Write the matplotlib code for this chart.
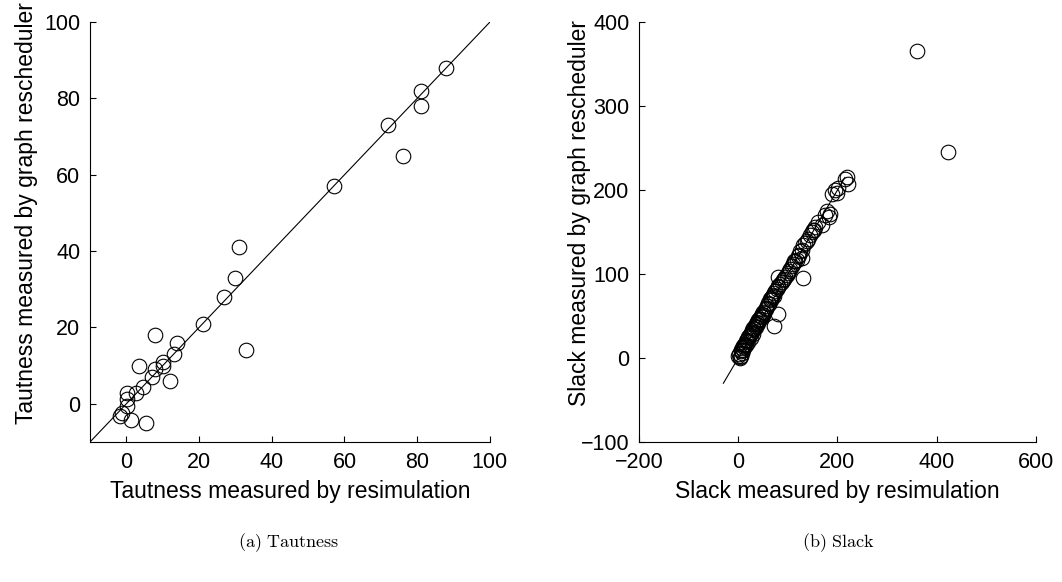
import matplotlib.pyplot as plt

plt.rcParams['font.family'] = ['Liberation Sans', 'DejaVu Sans']
plt.rcParams['mathtext.fontset'] = 'cm'

# (a) tautness: resimulation vs graph rescheduler
taut_resim = [88, 81, 81, 72, 76, 57, 31, 30, 27, 21, 33, 14, 13, 8, 3.5, 10, 10, 8, 7,
              12, 4.7, 2.6, 0.3, 0.3, 0.3, -1.3, -1.7, 1.2, 5.3]
taut_graph = [88, 82, 78, 73, 65, 57, 41, 33, 28, 21, 14, 16, 13, 18, 10, 11, 10, 9, 7,
              6, 4.5, 2.8, 2.9, 1.2, -0.5, -2.3, -3.1, -4.2, -5]

# (b) slack: resimulation vs graph rescheduler
slack_resim = [0, 2, 3, 4, 5, 5, 6, 8, 8, 10, 10, 12, 12, 14, 15, 15, 17, 18, 20, 20,
               22, 24, 25, 25, 27, 28, 30, 30, 32, 33, 35, 35, 37, 38, 40, 40, 42, 44,
               45, 47, 48, 50, 50, 52, 55, 55, 58, 60, 62, 63, 65, 66, 68, 70, 72, 73,
               75, 78, 80, 81, 85, 88, 90, 92, 95, 98, 100, 102, 105, 108, 110, 113,
               115, 118, 120, 122, 125, 128, 128, 130, 135, 138, 140, 145, 148, 150,
               152, 155, 160, 168, 175, 178, 182, 185, 189, 195, 200, 202, 215, 219,
               222, 73, 81, 81, 130, 360, 422]
slack_graph = [2, 5, 1, 0, 8, 3, 10, 6, 12, 14, 9, 16, 13, 17, 20, 15, 21, 22, 25, 19,
               26, 27, 30, 24, 31, 33, 36, 29, 34, 38, 41, 37, 40, 43, 45, 42, 47, 46,
               50, 49, 53, 55, 51, 54, 58, 60, 62, 66, 64, 70, 69, 72, 73, 75, 77, 74,
               80, 82, 84, 86, 88, 90, 93, 94, 97, 99, 101, 104, 106, 110, 112, 115,
               115, 117, 121, 123, 127, 129, 119, 134, 137, 139, 142, 147, 150, 153,
               153, 156, 162, 158, 170, 175, 168, 172, 195, 200, 197, 203, 213, 215,
               207, 38, 53, 96, 95, 366, 245]

taut_line = [-10, 100]
slack_line = [-30, 215]

fig = plt.figure(figsize=(10.62, 5.82), dpi=100)
ax1 = fig.add_axes([0.0847, 0.2405, 0.3766, 0.7216])
ax2 = fig.add_axes([0.6017, 0.2405, 0.3738, 0.7216])

mk = dict(marker='o', markersize=10.5, markerfacecolor='none', markeredgecolor='black',
          markeredgewidth=0.8, linestyle='none')

ax1.plot(taut_line, taut_line, color='black', lw=0.8)
ax1.plot(taut_resim, taut_graph, **mk)
ax1.set_xlim(-10, 100)
ax1.set_ylim(-10, 100)
ax1.set_xticks([0, 20, 40, 60, 80, 100])
ax1.set_yticks([0, 20, 40, 60, 80, 100])
ax1.set_xlabel('Tautness measured by resimulation', fontsize=16.5, labelpad=5)
ax1.set_ylabel('Tautness measured by graph rescheduler', fontsize=16.5)
ax1.yaxis.set_label_coords(-0.13, 0.545)

ax2.plot(slack_line, slack_line, color='black', lw=0.8)
ax2.plot(slack_resim, slack_graph, **mk)
ax2.set_xlim(-200, 600)
ax2.set_ylim(-100, 400)
ax2.set_xticks([-200, 0, 200, 400, 600])
ax2.set_yticks([-100, 0, 100, 200, 300, 400])
ax2.set_xlabel('Slack measured by resimulation', fontsize=16.5, labelpad=5)
ax2.set_ylabel('Slack measured by graph rescheduler', fontsize=16.5)
ax2.yaxis.set_label_coords(-0.12, 0.545)

for ax in (ax1, ax2):
    for s in ('top', 'right'):
        ax.spines[s].set_visible(False)
    ax.spines['left'].set_linewidth(0.8)
    ax.spines['bottom'].set_linewidth(0.8)
    ax.tick_params(direction='in', length=4, width=0.8, labelsize=15.5, pad=7)

fig.text(0.272, 0.067, r'$\mathrm{(a)\ Tautness}$', ha='center', va='center', fontsize=13)
fig.text(0.789, 0.067, r'$\mathrm{(b)\ Slack}$', ha='center', va='center', fontsize=13)

fig.savefig('out.png', dpi=100)
